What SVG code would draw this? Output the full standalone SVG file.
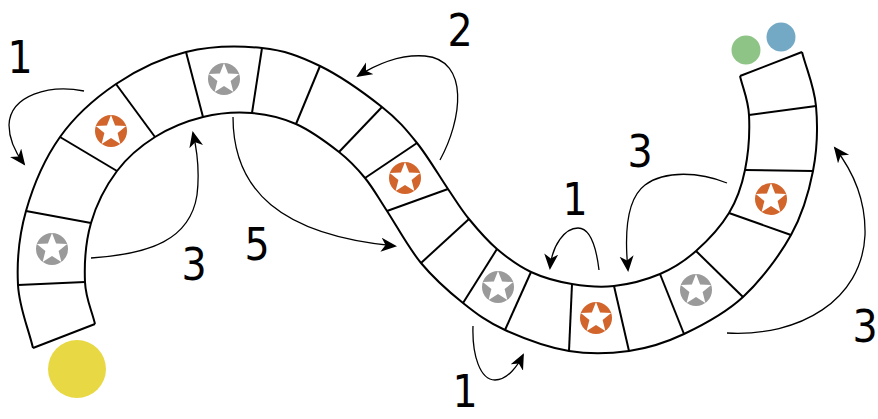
<svg xmlns="http://www.w3.org/2000/svg" width="878" height="419" viewBox="0 0 878 419">
<style>
.edge{fill:none;stroke:#000;stroke-width:2}
.div{stroke:#000;stroke-width:2}
.arr{fill:none;stroke:#000;stroke-width:1.3;marker-end:url(#ah)}
.lbl{font-family:"DejaVu Sans Condensed","DejaVu Sans",sans-serif;font-stretch:condensed;font-size:44px;fill:#000;text-anchor:middle}
.or{fill:#D2652B}
.gr{fill:#9A9A9A}
.st{fill:#fff}
</style>
<defs>
<marker id="ah" markerUnits="userSpaceOnUse" markerWidth="18" markerHeight="16" refX="14" refY="7" orient="auto">
<path d="M0,0 L16,7 L0,14 L4.5,7 z" fill="#000"/>
</marker>
<polygon id="star" points="0,-16 4.1,-5.6 15.2,-4.9 6.6,2.1 9.4,12.9 0,6.9 -9.4,12.9 -6.6,2.1 -15.2,-4.9 -4.1,-5.6"/>
</defs>
<g id="track">
<path class="edge" d="M33,348 C28,327 19.2,307.8 18,285 C16.8,262.2 19,235.7 26,211 C33,186.3 45,158.2 60,137 C75,115.8 95,98.2 116,84 C137,69.8 161.7,58 186,52 C210.3,46 239.7,45.7 262,48 C284.3,50.3 300,56.2 320,66 C340,75.8 365.8,94.2 382,107 C398.2,119.8 406,129.3 417,143 C428,156.7 439.3,176.3 448,189 C456.7,201.7 460.8,209 469,219 C477.2,229 486.7,240.2 497,249 C507.3,257.8 518.5,266.2 531,272 C543.5,277.8 558.2,281.7 572,284 C585.8,286.3 599.3,287.7 614,286 C628.7,284.3 646.3,279.8 660,274 C673.7,268.2 684.5,261.2 696,251 C707.5,240.8 720.8,226.5 729,213 C737.2,199.5 741.7,186.3 745,170 C748.3,153.7 749.8,130.7 749,115 C748.2,99.3 743,89 740,76"/>
<path class="edge" d="M95,324 C91.7,310 85.7,298.8 85,282 C84.3,265.2 85.7,241.5 91,223 C96.3,204.5 106.3,185.3 117,171 C127.7,156.7 140.7,146 155,137 C169.3,128 186.8,121 203,117 C219.2,113 236.5,111.8 252,113 C267.5,114.2 281.5,117.5 296,124 C310.5,130.5 327.5,143 339,152 C350.5,161 357,168.2 365,178 C373,187.8 377.7,196.8 387,211 C396.3,225.2 408.3,247.7 421,263 C433.7,278.3 449,291.8 463,303 C477,314.2 487.3,322 505,330 C522.7,338 548.3,347.5 569,351 C589.7,354.5 609.8,353.8 629,351 C648.2,348.2 665,343 684,334 C703,325 725.2,313.5 743,297 C760.8,280.5 779.3,256 791,235 C802.7,214 808.8,192.5 813,171 C817.2,149.5 817.8,125.8 816,106 C814.2,86.2 806.7,70 802,52"/>
<line class="div" x1="33" y1="348" x2="95" y2="324"/>
<line class="div" x1="18" y1="285" x2="85" y2="282"/>
<line class="div" x1="26" y1="211" x2="91" y2="223"/>
<line class="div" x1="60" y1="137" x2="117" y2="171"/>
<line class="div" x1="116" y1="84" x2="155" y2="137"/>
<line class="div" x1="186" y1="52" x2="203" y2="117"/>
<line class="div" x1="262" y1="48" x2="252" y2="113"/>
<line class="div" x1="320" y1="66" x2="296" y2="124"/>
<line class="div" x1="382" y1="107" x2="339" y2="152"/>
<line class="div" x1="417" y1="143" x2="365" y2="178"/>
<line class="div" x1="448" y1="189" x2="387" y2="211"/>
<line class="div" x1="469" y1="219" x2="421" y2="263"/>
<line class="div" x1="497" y1="249" x2="463" y2="303"/>
<line class="div" x1="531" y1="272" x2="505" y2="330"/>
<line class="div" x1="572" y1="284" x2="569" y2="351"/>
<line class="div" x1="614" y1="286" x2="629" y2="351"/>
<line class="div" x1="660" y1="274" x2="684" y2="334"/>
<line class="div" x1="696" y1="251" x2="743" y2="297"/>
<line class="div" x1="729" y1="213" x2="791" y2="235"/>
<line class="div" x1="745" y1="170" x2="813" y2="171"/>
<line class="div" x1="749" y1="115" x2="816" y2="106"/>
<line class="div" x1="740" y1="76" x2="802" y2="52"/>
</g>
<g id="star-1" transform="translate(52,249)"><circle class="gr" r="16"/><use href="#star" class="st"/></g>
<g id="star-2" transform="translate(111,131)"><circle class="or" r="16"/><use href="#star" class="st"/></g>
<g id="star-3" transform="translate(224,79)"><circle class="gr" r="16"/><use href="#star" class="st"/></g>
<g id="star-4" transform="translate(405,178)"><circle class="or" r="16"/><use href="#star" class="st"/></g>
<g id="star-5" transform="translate(498,287)"><circle class="gr" r="16"/><use href="#star" class="st"/></g>
<g id="star-6" transform="translate(596,318)"><circle class="or" r="16"/><use href="#star" class="st"/></g>
<g id="star-7" transform="translate(696,290)"><circle class="gr" r="16"/><use href="#star" class="st"/></g>
<g id="star-8" transform="translate(771,199)"><circle class="or" r="16"/><use href="#star" class="st"/></g>
<g id="pawn-yellow"><circle cx="77" cy="369" r="29" fill="#E8D843"/></g>
<g id="pawn-green"><circle cx="746" cy="50" r="14.5" fill="#8FC487"/></g>
<g id="pawn-blue"><circle cx="781" cy="37" r="14.5" fill="#74A9C6"/></g>
<g id="connectors">
<path class="arr" d="M84,91 C50,84 10,95 9,125 C9,140 15,152 24,164"/>
<path class="arr" d="M91,258 C150,254 190,240 197,195 C200,170 197,150 193,133"/>
<path class="arr" d="M233,117 C233,190 280,235 395,246"/>
<path class="arr" d="M440,160 C462,120 470,60 425,56 C400,54 375,65 358,76"/>
<path class="arr" d="M599,270 C596,245 590,228 578,228 C565,228 552,245 550,268"/>
<path class="arr" d="M727,183 C700,172 665,170 645,185 C625,200 625,240 628,270"/>
<path class="arr" d="M727,333 C800,337 862,300 865,235 C866,200 852,170 835,148"/>
<path class="arr" d="M473,326 C472,355 480,380 495,380 C508,380 518,365 523,355"/>
</g>
<g id="labels">
<text class="lbl" x="20" y="73">1</text>
<text class="lbl" x="460" y="46">2</text>
<text class="lbl" x="194" y="280">3</text>
<text class="lbl" x="257" y="260">5</text>
<text class="lbl" x="575" y="215">1</text>
<text class="lbl" x="640" y="167">3</text>
<text class="lbl" x="865" y="342">3</text>
<text class="lbl" x="465" y="407">1</text>
</g>
</svg>
